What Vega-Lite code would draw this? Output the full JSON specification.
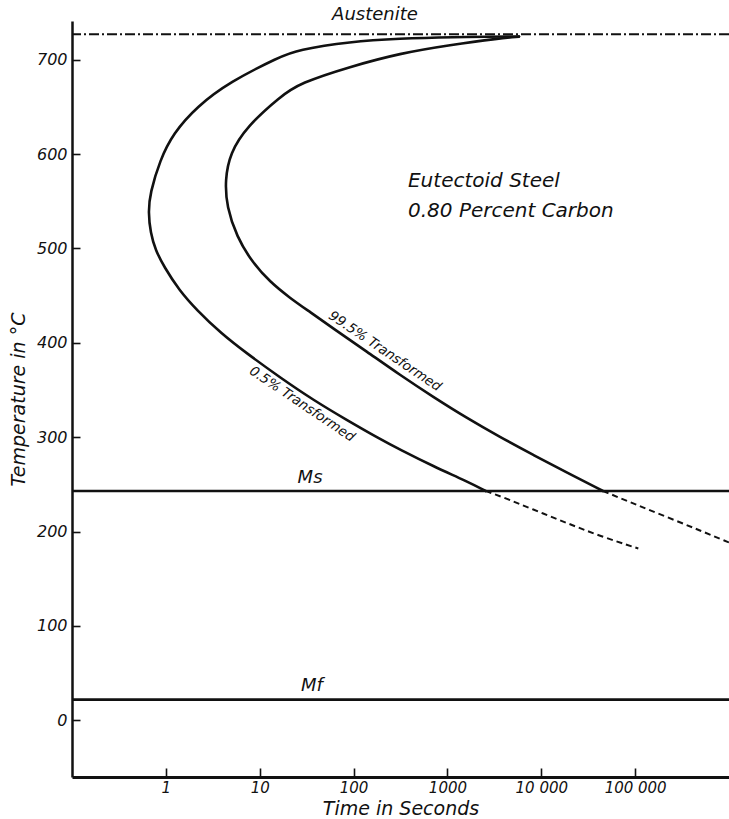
{
  "$schema": "https://vega.github.io/schema/vega-lite/v6.json",
  "width": 657,
  "height": 756,
  "autosize": {"type": "none"},
  "padding": {"left": 72, "top": 21, "right": 0, "bottom": 42},
  "background": "white",
  "config": {"view": {"stroke": null}, "font": "DejaVu Sans"},
  "resolve": {"axis": {"x": "independent", "y": "independent"}},
  "datasets": {
    "curves": [
      {"curve": "start", "seg": "solid", "i": 1, "t": 5789, "T": 724.6},
      {"curve": "start", "seg": "solid", "i": 2, "t": 1065, "T": 724.0},
      {"curve": "start", "seg": "solid", "i": 3, "t": 312.4, "T": 722.5},
      {"curve": "start", "seg": "solid", "i": 4, "t": 91.6, "T": 719.1},
      {"curve": "start", "seg": "solid", "i": 5, "t": 24.97, "T": 710.3},
      {"curve": "start", "seg": "solid", "i": 6, "t": 16.45, "T": 703.2},
      {"curve": "start", "seg": "solid", "i": 7, "t": 4.826, "T": 676.7},
      {"curve": "start", "seg": "solid", "i": 8, "t": 2.131, "T": 650.2},
      {"curve": "start", "seg": "solid", "i": 9, "t": 1.2, "T": 622.0},
      {"curve": "start", "seg": "solid", "i": 10, "t": 0.866, "T": 593.7},
      {"curve": "start", "seg": "solid", "i": 11, "t": 0.678, "T": 558.4},
      {"curve": "start", "seg": "solid", "i": 12, "t": 0.65, "T": 538.6},
      {"curve": "start", "seg": "solid", "i": 13, "t": 0.686, "T": 516.4},
      {"curve": "start", "seg": "solid", "i": 14, "t": 0.775, "T": 498.4},
      {"curve": "start", "seg": "solid", "i": 15, "t": 0.955, "T": 480.7},
      {"curve": "start", "seg": "solid", "i": 16, "t": 1.38, "T": 456.0},
      {"curve": "start", "seg": "solid", "i": 17, "t": 2.131, "T": 434.8},
      {"curve": "start", "seg": "solid", "i": 18, "t": 3.868, "T": 410.1},
      {"curve": "start", "seg": "solid", "i": 19, "t": 7.265, "T": 388.9},
      {"curve": "start", "seg": "solid", "i": 20, "t": 16.05, "T": 364.1},
      {"curve": "start", "seg": "solid", "i": 21, "t": 37.23, "T": 339.4},
      {"curve": "start", "seg": "solid", "i": 22, "t": 84.5, "T": 318.3},
      {"curve": "start", "seg": "solid", "i": 23, "t": 191.2, "T": 298.1},
      {"curve": "start", "seg": "solid", "i": 24, "t": 312.4, "T": 286.9},
      {"curve": "start", "seg": "solid", "i": 25, "t": 707.3, "T": 269.2},
      {"curve": "start", "seg": "solid", "i": 26, "t": 1605, "T": 253.3},
      {"curve": "start", "seg": "solid", "i": 27, "t": 2560, "T": 243},
      {"curve": "start", "seg": "dash", "i": 27, "t": 2560, "T": 243},
      {"curve": "start", "seg": "dash", "i": 28, "t": 3633, "T": 237.7},
      {"curve": "start", "seg": "dash", "i": 29, "t": 8222, "T": 223.4},
      {"curve": "start", "seg": "dash", "i": 30, "t": 18660, "T": 209.1},
      {"curve": "start", "seg": "dash", "i": 31, "t": 42230, "T": 195.3},
      {"curve": "start", "seg": "dash", "i": 32, "t": 108100, "T": 182.1},
      {"curve": "finish", "seg": "solid", "i": 1, "t": 5789, "T": 724.4},
      {"curve": "finish", "seg": "solid", "i": 2, "t": 3633, "T": 722.7},
      {"curve": "finish", "seg": "solid", "i": 3, "t": 1065, "T": 715.6},
      {"curve": "finish", "seg": "solid", "i": 4, "t": 312.4, "T": 706.8},
      {"curve": "finish", "seg": "solid", "i": 5, "t": 91.6, "T": 692.6},
      {"curve": "finish", "seg": "solid", "i": 6, "t": 26.87, "T": 675.3},
      {"curve": "finish", "seg": "solid", "i": 7, "t": 16.45, "T": 660.8},
      {"curve": "finish", "seg": "solid", "i": 8, "t": 7.265, "T": 629.0},
      {"curve": "finish", "seg": "solid", "i": 9, "t": 4.826, "T": 601.1},
      {"curve": "finish", "seg": "solid", "i": 10, "t": 4.267, "T": 572.5},
      {"curve": "finish", "seg": "solid", "i": 11, "t": 4.449, "T": 544.2},
      {"curve": "finish", "seg": "solid", "i": 12, "t": 5.686, "T": 512.5},
      {"curve": "finish", "seg": "solid", "i": 13, "t": 8.276, "T": 485.7},
      {"curve": "finish", "seg": "solid", "i": 14, "t": 12.87, "T": 464.5},
      {"curve": "finish", "seg": "solid", "i": 15, "t": 21.02, "T": 447.5},
      {"curve": "finish", "seg": "solid", "i": 16, "t": 34.34, "T": 432.7},
      {"curve": "finish", "seg": "solid", "i": 17, "t": 60.81, "T": 415.2},
      {"curve": "finish", "seg": "solid", "i": 18, "t": 138.0, "T": 390.8},
      {"curve": "finish", "seg": "solid", "i": 19, "t": 312.4, "T": 365.9},
      {"curve": "finish", "seg": "solid", "i": 20, "t": 707.3, "T": 342.6},
      {"curve": "finish", "seg": "solid", "i": 21, "t": 1605, "T": 320.4},
      {"curve": "finish", "seg": "solid", "i": 22, "t": 3633, "T": 300.2},
      {"curve": "finish", "seg": "solid", "i": 23, "t": 8222, "T": 281.2},
      {"curve": "finish", "seg": "solid", "i": 24, "t": 18660, "T": 262.6},
      {"curve": "finish", "seg": "solid", "i": 25, "t": 45450, "T": 243},
      {"curve": "finish", "seg": "dash", "i": 25, "t": 45450, "T": 243},
      {"curve": "finish", "seg": "dash", "i": 26, "t": 95570, "T": 229.8},
      {"curve": "finish", "seg": "dash", "i": 27, "t": 216900, "T": 215.5},
      {"curve": "finish", "seg": "dash", "i": 28, "t": 491400, "T": 201.2},
      {"curve": "finish", "seg": "dash", "i": 29, "t": 1000000, "T": 188.5}
    ],
    "temps": [
      {"name": "Austenite", "T": 727},
      {"name": "Ms", "T": 243},
      {"name": "Mf", "T": 22}
    ],
    "notes": [
      {"text": "Austenite", "t": 169, "T": 747},
      {"text": "Ms", "t": 34.4, "T": 257},
      {"text": "Mf", "t": 36, "T": 36}
    ],
    "steel": [
      {"text": "Eutectoid  Steel", "t": 380, "T": 572},
      {"text": "0.80  Percent  Carbon", "t": 380, "T": 540}
    ],
    "curvelabels": [
      {"text": "99.5%  Transformed", "t": 216, "T": 391},
      {"text": "0.5%  Transformed", "t": 28.2, "T": 335}
    ]
  },
  "layer": [
    {
      "data": {"name": "curves"},
      "transform": [{"filter": "datum.seg == 'solid'"}],
      "mark": {"type": "line", "color": "#111", "strokeWidth": 2.6, "strokeCap": "round", "strokeJoin": "round", "interpolate": "basis"},
      "encoding": {
        "x": {
          "field": "t", "type": "quantitative",
          "scale": {"type": "log", "domain": [0.1, 1000000], "nice": false},
          "axis": {
            "values": [1, 10, 100, 1000, 10000, 100000],
            "labelExpr": "datum.value == 10000 ? '10 000' : datum.value == 100000 ? '100 000' : format(datum.value, 'd')",
            "grid": false, "ticks": false,
            "domainColor": "#111", "domainWidth": 3,
            "labelPadding": 3, "labelFont": "DejaVu Sans", "labelFontStyle": "italic", "labelFontSize": 15, "labelColor": "#111", "labelFlush": false,
            "title": "Time in Seconds", "titleFont": "DejaVu Sans", "titleFontStyle": "italic", "titleFontWeight": "normal", "titleFontSize": 19, "titleColor": "#111", "titlePadding": 4
          }
        },
        "y": {
          "field": "T", "type": "quantitative",
          "scale": {"domain": [-60, 741], "nice": false, "zero": false},
          "axis": {
            "values": [0, 100, 200, 300, 400, 500, 600, 700],
            "grid": false, "ticks": false,
            "domainColor": "#111", "domainWidth": 2.5,
            "labelPadding": 5, "labelFont": "DejaVu Sans", "labelFontStyle": "italic", "labelFontSize": 16, "labelColor": "#111",
            "title": "Temperature in °C", "titleFont": "DejaVu Sans", "titleFontStyle": "italic", "titleFontWeight": "normal", "titleFontSize": 19, "titleColor": "#111", "titlePadding": 8
          }
        },
        "detail": {"field": "curve"},
        "order": {"field": "i", "type": "quantitative"}
      }
    },
    {
      "data": {"name": "curves"},
      "transform": [{"filter": "datum.seg == 'dash'"}],
      "mark": {"type": "line", "color": "#111", "strokeWidth": 2, "strokeDash": [6, 4], "interpolate": "basis", "clip": true},
      "encoding": {
        "x": {
          "field": "t", "type": "quantitative",
          "scale": {"type": "log", "domain": [0.1, 1000000], "nice": false},
          "axis": {"orient": "top", "offset": -756, "values": [1, 10, 100, 1000, 10000, 100000], "labels": false, "domain": false, "grid": false, "title": null, "ticks": true, "tickSize": 9, "tickWidth": 1.6, "tickColor": "#111"}
        },
        "y": {
          "field": "T", "type": "quantitative",
          "scale": {"domain": [-60, 741], "nice": false, "zero": false},
          "axis": {"orient": "right", "offset": -657, "values": [0, 100, 200, 300, 400, 500, 600, 700], "labels": false, "domain": false, "grid": false, "title": null, "ticks": true, "tickSize": 8, "tickWidth": 1.6, "tickColor": "#111"}
        },
        "detail": {"field": "curve"},
        "order": {"field": "i", "type": "quantitative"}
      }
    },
    {
      "data": {"name": "temps"},
      "transform": [{"filter": "datum.name == 'Austenite'"}],
      "mark": {"type": "rule", "color": "#111", "strokeWidth": 2, "strokeDash": [10, 3, 2, 3]},
      "encoding": {
        "y": {"field": "T", "type": "quantitative", "scale": {"domain": [-60, 741], "nice": false, "zero": false}, "axis": null}
      }
    },
    {
      "data": {"name": "temps"},
      "transform": [{"filter": "datum.name != 'Austenite'"}],
      "mark": {"type": "rule", "color": "#111", "strokeWidth": 2.7},
      "encoding": {
        "y": {"field": "T", "type": "quantitative", "scale": {"domain": [-60, 741], "nice": false, "zero": false}, "axis": null}
      }
    },
    {
      "data": {"name": "notes"},
      "mark": {"type": "text", "font": "DejaVu Sans", "fontStyle": "italic", "fontSize": 18, "color": "#111", "align": "center", "baseline": "middle"},
      "encoding": {
        "x": {"field": "t", "type": "quantitative", "scale": {"type": "log", "domain": [0.1, 1000000], "nice": false}, "axis": null},
        "y": {"field": "T", "type": "quantitative", "scale": {"domain": [-60, 741], "nice": false, "zero": false}, "axis": null},
        "text": {"field": "text"}
      }
    },
    {
      "data": {"name": "steel"},
      "mark": {"type": "text", "font": "DejaVu Sans", "fontStyle": "italic", "fontSize": 20, "color": "#111", "align": "left", "baseline": "middle"},
      "encoding": {
        "x": {"field": "t", "type": "quantitative", "scale": {"type": "log", "domain": [0.1, 1000000], "nice": false}, "axis": null},
        "y": {"field": "T", "type": "quantitative", "scale": {"domain": [-60, 741], "nice": false, "zero": false}, "axis": null},
        "text": {"field": "text"}
      }
    },
    {
      "data": {"name": "curvelabels"},
      "mark": {"type": "text", "font": "DejaVu Sans", "fontStyle": "italic", "fontSize": 13.5, "color": "#111", "align": "center", "baseline": "middle", "angle": 34},
      "encoding": {
        "x": {"field": "t", "type": "quantitative", "scale": {"type": "log", "domain": [0.1, 1000000], "nice": false}, "axis": null},
        "y": {"field": "T", "type": "quantitative", "scale": {"domain": [-60, 741], "nice": false, "zero": false}, "axis": null},
        "text": {"field": "text"}
      }
    }
  ]
}
